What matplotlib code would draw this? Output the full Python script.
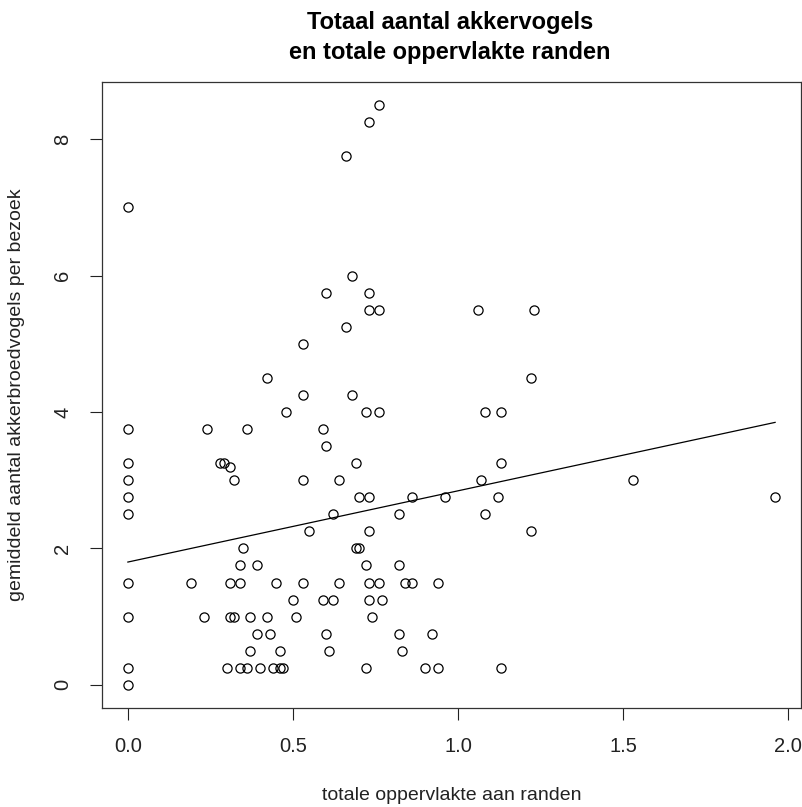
import numpy as np
import matplotlib
matplotlib.use("Agg")
from matplotlib import pyplot as plt

plt.rcParams['font.family'] = ['Liberation Sans', 'DejaVu Sans']

# totale oppervlakte aan randen (x) and gemiddeld aantal akkerbroedvogels (y)
opp_x = [0, 0, 0, 0, 0, 0, 0, 0, 0, 0,
         0.76, 0.73, 0.66, 0.68, 0.60, 0.73, 0.73, 0.76, 0.66, 0.53, 0.42, 0.53, 0.68,
         1.06, 1.23, 1.22,
         0.48, 0.72, 0.76, 1.08, 1.13,
         0.24, 0.36, 0.59,
         0.60,
         0.28, 0.29, 0.69, 1.13, 0.31,
         0.32, 0.53, 0.64, 1.07, 1.53,
         0.70, 0.73, 0.86, 0.96, 1.12, 1.96,
         0.62, 0.82, 1.08,
         0.55, 0.73, 1.22,
         0.35, 0.69, 0.70,
         0.34, 0.39, 0.72, 0.82,
         0.19, 0.31, 0.34, 0.45, 0.53, 0.64, 0.73, 0.76, 0.84, 0.86, 0.94,
         0.50, 0.59, 0.62, 0.73, 0.77,
         0.23, 0.31, 0.32, 0.37, 0.42, 0.51, 0.74,
         0.39, 0.43, 0.60, 0.82, 0.92,
         0.37, 0.46, 0.61, 0.83,
         0.30, 0.34, 0.36, 0.40, 0.44, 0.46, 0.47, 0.72, 0.90, 0.94, 1.13]
vogels_y = [7.0, 3.75, 3.25, 3.0, 2.75, 2.5, 1.5, 1.0, 0.25, 0.0,
            8.5, 8.25, 7.75, 6.0, 5.75, 5.75, 5.5, 5.5, 5.25, 5.0, 4.5, 4.25, 4.25,
            5.5, 5.5, 4.5,
            4.0, 4.0, 4.0, 4.0, 4.0,
            3.75, 3.75, 3.75,
            3.5,
            3.25, 3.25, 3.25, 3.25, 3.2,
            3.0, 3.0, 3.0, 3.0, 3.0,
            2.75, 2.75, 2.75, 2.75, 2.75, 2.75,
            2.5, 2.5, 2.5,
            2.25, 2.25, 2.25,
            2.0, 2.0, 2.0,
            1.75, 1.75, 1.75, 1.75,
            1.5, 1.5, 1.5, 1.5, 1.5, 1.5, 1.5, 1.5, 1.5, 1.5, 1.5,
            1.25, 1.25, 1.25, 1.25, 1.25,
            1.0, 1.0, 1.0, 1.0, 1.0, 1.0, 1.0,
            0.75, 0.75, 0.75, 0.75, 0.75,
            0.5, 0.5, 0.5, 0.5,
            0.25, 0.25, 0.25, 0.25, 0.25, 0.25, 0.25, 0.25, 0.25, 0.25, 0.25]

# regression line as it appears in the chart (intercept, slope)
fit_intercept = 1.80
fit_slope = 1.045

x = np.array(opp_x)
y = np.array(vogels_y)

fig = plt.figure(figsize=(8.03, 8.07), dpi=100)
ax = fig.add_axes([0.127, 0.1227, 0.8705, 0.7757])

ax.plot(x, y, 'o', markerfacecolor='none', markeredgecolor='black',
        markersize=6.6, markeredgewidth=0.9)

xs = np.array([x.min(), x.max()])
ax.plot(xs, fit_intercept + fit_slope * xs, color='black', linewidth=0.9)

# R style 4% padding
xr = x.max() - x.min()
yr = y.max() - y.min()
ax.set_xlim(x.min() - 0.04 * xr, x.max() + 0.04 * xr)
ax.set_ylim(y.min() - 0.04 * yr, y.max() + 0.04 * yr)

ax.set_xticks([0.0, 0.5, 1.0, 1.5, 2.0])
ax.set_xticklabels(['0.0', '0.5', '1.0', '1.5', '2.0'])
ax.set_yticks([0, 2, 4, 6, 8])
ax.tick_params(axis='both', direction='out', length=8.5, width=0.8,
               labelsize=14.5, colors='#222222')
ax.tick_params(axis='x', pad=12.5)
ax.tick_params(axis='y', pad=13)
for lab in ax.get_yticklabels():
    lab.set_rotation(90)
    lab.set_va('center')
for sp in ax.spines.values():
    sp.set_linewidth(0.9)
    sp.set_color('#333333')

ax.set_xlabel('totale oppervlakte aan randen', fontsize=14, labelpad=22, color='#222222')
ax.set_ylabel('gemiddeld aantal akkerbroedvogels per bezoek', fontsize=14,
              labelpad=20, color='#222222')
fig.text(0.5604, 0.964, 'Totaal aantal akkervogels', ha='center', va='baseline',
         fontsize=17, fontweight='bold')
fig.text(0.5604, 0.927, 'en totale oppervlakte randen', ha='center', va='baseline',
         fontsize=17, fontweight='bold')

fig.savefig('out.png', dpi=100, facecolor='white')
